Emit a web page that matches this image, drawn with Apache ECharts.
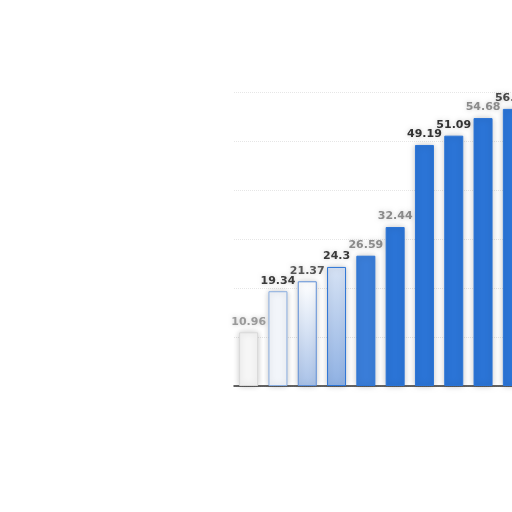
<!DOCTYPE html>
<html><head><meta charset="utf-8">
<script src="https://cdn.jsdelivr.net/npm/echarts@6/dist/echarts.min.js"></script>
<style>html,body{margin:0;padding:0;overflow:hidden;background:#fff;width:512px;height:512px}#c{width:540px;height:512px}</style>
</head><body><div id="c"></div>
<script>
var categories = ['1','2','3','4','5','6','7','8','9','10'];
var values = [10.96, 19.34, 21.37, 24.3, 26.59, 32.44, 49.19, 51.09, 54.68, 56.55];
var labelTexts = ['10.96','19.34','21.37','24.3','26.59','32.44','49.19','51.09','54.68','56.55'];
var barFills = ['#f6f6f6','#f2f5fa',
  {type:'linear',x:0,y:0,x2:0,y2:1,colorStops:[{offset:0,color:'#ffffff'},{offset:1,color:'#a9c2e8'}]},
  {type:'linear',x:0,y:0,x2:0,y2:1,colorStops:[{offset:0,color:'#d6e2f4'},{offset:1,color:'#8fb1e3'}]},
  '#3a7dd8','#2b74d6','#2b74d6','#2b74d6','#2b74d6','#2b74d6'];
var barBorders = ['#d8d8d8','#8aaee0','#5d8fd8','#2b74d6','#2b74d6','#2b74d6','#2b74d6','#2b74d6','#2b74d6','#2b74d6'];
var labelColors = ['#9a9a9a','#3a3a3a','#555','#3a3a3a','#8a8a8a','#8a8a8a','#333','#333','#8a8a8a','#444'];

var chart = echarts.init(document.getElementById('c'));
chart.setOption({
  animation:false,
  grid:{left:234,right:13,top:92,bottom:126},
  xAxis:{type:'category',data:categories,
    axisLine:{lineStyle:{color:'#333',width:1.5}},axisTick:{show:false},axisLabel:{show:false}},
  yAxis:{type:'value',min:0,max:60,interval:10,
    axisLine:{show:false},axisTick:{show:false},axisLabel:{show:false},
    splitLine:{lineStyle:{type:'dotted',color:'#e6e6e6'}}},
  series:[{type:'bar',barWidth:19,
    data:values.map(function(v,i){return {value:v,
      itemStyle:{color:barFills[i],borderColor:barBorders[i],borderWidth:1,
        shadowColor:'rgba(0,0,0,0.22)',shadowBlur:6},
      label:{show:true,position:'top',distance:5,formatter:labelTexts[i],
        color:labelColors[i],fontWeight:'bold',fontSize:11,fontFamily:'DejaVu Sans',
        textShadowColor:'rgba(0,0,0,0.2)',textShadowBlur:4}};})
  }]
});
</script></body></html>
